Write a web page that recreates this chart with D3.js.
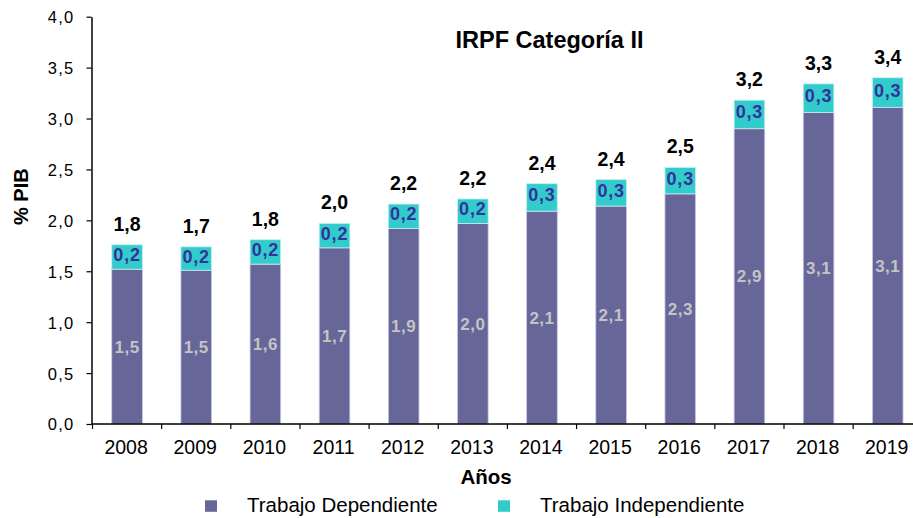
<!DOCTYPE html>
<html>
<head>
<meta charset="utf-8">
<script src="https://cdn.jsdelivr.net/npm/d3@7"></script>
<style>
  body { margin: 0; background: #fff; }
  svg { display: block; font-family: "Liberation Sans", Arial, sans-serif; }
</style>
</head>
<body>
<div id="chart"></div>
<script>
const years = ["2008", "2009", "2010", "2011", "2012", "2013", "2014", "2015", "2016", "2017", "2018", "2019"]
const dependiente = [1.52, 1.51, 1.57, 1.73, 1.92, 1.97, 2.09, 2.14, 2.26, 2.90, 3.06, 3.11]
const independiente = [0.24, 0.23, 0.24, 0.24, 0.24, 0.24, 0.27, 0.26, 0.26, 0.28, 0.28, 0.29]
const yTicks = [0, 0.5, 1.0, 1.5, 2.0, 2.5, 3.0, 3.5, 4.0]
const seriesNames = ["Trabajo Dependiente", "Trabajo Independiente"]

const width = 913, height = 518
const colDep = "#666699", colInd = "#33cccc"
const fmt = v => d3.format(".1f")(v).replace(".", ",")

const svg = d3.select("#chart").append("svg")
    .attr("width", width)
    .attr("height", height)

const x = d3.scaleBand()
    .domain(years)
    .range([92.5, 922.3])
    .padding(0)

const y = d3.scaleLinear()
    .domain([0, 4])
    .range([424, 16.7])

const barW = x.bandwidth() * 0.443

// y axis
const yAxis = svg.append("g")
    .attr("transform", "translate(91.5,0)")
    .call(d3.axisLeft(y).tickValues(yTicks).tickSize(5).tickSizeOuter(0).tickFormat(fmt))
yAxis.select(".domain").attr("stroke", "#000").attr("stroke-width", 1.5)
yAxis.selectAll(".tick line").attr("stroke", "#000").attr("stroke-width", 1.2)
yAxis.selectAll(".tick text")
    .attr("x", -17)
    .attr("dy", "0.36em")
    .attr("font-size", "16.5px")
    .attr("letter-spacing", "1.3px")
    .attr("fill", "#000")
    .attr("font-family", "'Liberation Sans', Arial, sans-serif")

// bars
const g = svg.append("g")
years.forEach((yr, i) => {
    const cx = x(yr) + x.bandwidth() / 2
    const dep = dependiente[i], ind = independiente[i], tot = dep + ind
    g.append("rect")
        .attr("x", cx - barW / 2)
        .attr("y", y(dep))
        .attr("width", barW)
        .attr("height", y(0) - y(dep))
        .attr("fill", colDep)
        .attr("stroke", "#c8c8e8")
        .attr("stroke-width", 0.8)
    g.append("rect")
        .attr("x", cx - barW / 2)
        .attr("y", y(tot))
        .attr("width", barW)
        .attr("height", y(dep) - y(tot))
        .attr("fill", colInd)
        .attr("stroke", "#c8eeee")
        .attr("stroke-width", 0.8)

    g.append("text")
        .attr("x", cx)
        .attr("y", (y(dep) + y(0)) / 2 + 6)
        .attr("text-anchor", "middle")
        .attr("font-size", "17px")
        .attr("font-weight", "bold")
        .attr("letter-spacing", "0.5px")
        .attr("fill", "#c4c4c4")
        .text(fmt(dep))
    g.append("text")
        .attr("x", cx)
        .attr("y", (y(dep) + y(tot)) / 2 + 4)
        .attr("text-anchor", "middle")
        .attr("font-size", "18px")
        .attr("font-weight", "bold")
        .attr("letter-spacing", "0.8px")
        .attr("fill", "#333399")
        .text(fmt(ind))
    g.append("text")
        .attr("x", cx)
        .attr("y", y(tot) - 14)
        .attr("text-anchor", "middle")
        .attr("font-size", "19.5px")
        .attr("font-weight", "bold")
        .attr("fill", "#000")
        .text(fmt(tot))
})

// x axis
const xg = svg.append("g")
xg.append("line")
    .attr("x1", 91.5).attr("x2", 922)
    .attr("y1", y(0)).attr("y2", y(0))
    .attr("stroke", "#000").attr("stroke-width", 1.5)
const bounds = years.map(d => x(d)).concat([x.range()[1]])
xg.selectAll(".xt").data(bounds).enter().append("line")
    .attr("x1", d => d).attr("x2", d => d)
    .attr("y1", y(0)).attr("y2", y(0) + 5)
    .attr("stroke", "#000").attr("stroke-width", 1.2)
xg.selectAll(".xl").data(years).enter().append("text")
    .attr("x", d => x(d) + x.bandwidth() / 2 - 1)
    .attr("y", 454)
    .attr("text-anchor", "middle")
    .attr("font-size", "19.5px")
    .attr("fill", "#000")
    .text(d => d)

// titles
svg.append("text")
    .attr("x", 549.5).attr("y", 48.3)
    .attr("text-anchor", "middle")
    .attr("font-size", "23.5px")
    .attr("font-weight", "bold")
    .text("IRPF Categoría II")

svg.append("text")
    .attr("x", 486).attr("y", 484.3)
    .attr("text-anchor", "middle")
    .attr("font-size", "20.5px")
    .attr("font-weight", "bold")
    .text("Años")

svg.append("text")
    .attr("transform", "translate(28.3,196.7) rotate(-90)")
    .attr("text-anchor", "middle")
    .attr("font-size", "20px")
    .attr("font-weight", "bold")
    .text("% PIB")

// legend
const legendX = [205, 498]
const legendCols = [colDep, colInd]
seriesNames.forEach((name, i) => {
    svg.append("rect")
        .attr("x", legendX[i]).attr("y", 500.3)
        .attr("width", 12).attr("height", 11.5)
        .attr("fill", legendCols[i])
    svg.append("text")
        .attr("x", legendX[i] + 42).attr("y", 512.3)
        .attr("font-size", "20.5px")
        .attr("fill", "#000")
        .text(name)
})
</script>
</body>
</html>
